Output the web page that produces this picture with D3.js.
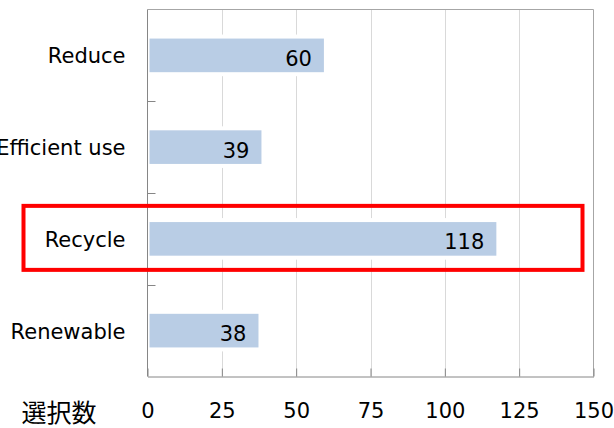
<!DOCTYPE html>
<html>
<head>
<meta charset="utf-8">
<script src="https://cdn.jsdelivr.net/npm/d3@7/dist/d3.min.js"></script>
<style>
  html, body { margin: 0; padding: 0; background: #fff; }
  svg { display: block; }
</style>
</head>
<body>
<svg id="chart" width="614" height="428"></svg>
<script>
// Number of selections per resource-strategy category
const categories = ["Reduce", "Efficient use", "Recycle", "Renewable"];
const counts = [60, 39, 118, 38];
const xTicks = [0, 25, 50, 75, 100, 125, 150];
const xAxisTitle = "選択数";
const highlighted = "Recycle";

const svg = d3.select("#chart");
const plotLeft = 147.5, plotRight = 593.5, plotTop = 9.5, plotBottom = 376.5;
const latin = "'DejaVu Sans', Verdana, sans-serif";

const x = d3.scaleLinear().domain([0, 150]).range([plotLeft, plotRight]);
const y = d3.scaleBand().domain(categories).range([plotTop, plotBottom])
  .paddingInner(0.59).paddingOuter(0.295);
const step = y.step();

// vertical gridlines
svg.append("g").selectAll("line").data(xTicks.slice(1, -1)).join("line")
  .attr("x1", d => Math.round(x(d)) + 0.5).attr("x2", d => Math.round(x(d)) + 0.5)
  .attr("y1", plotTop).attr("y2", plotBottom)
  .attr("stroke", "#d9d9d9").attr("stroke-width", 1);

// bars (white outline separates them from the gridlines)
svg.append("g").selectAll("rect").data(categories).join("rect")
  .attr("x", x(0))
  .attr("y", d => y(d))
  .attr("width", (d, i) => x(counts[i]) - x(0))
  .attr("height", y.bandwidth())
  .attr("fill", "#b9cde5")
  .attr("stroke", "#fff").attr("stroke-width", 4);

// value labels inside bar ends
svg.append("g").selectAll("text").data(categories).join("text")
  .attr("x", (d, i) => x(counts[i]) - 14)
  .attr("y", d => y(d) + y.bandwidth() / 2 + 10.5)
  .attr("text-anchor", "end")
  .attr("font-family", latin).attr("font-size", 21).attr("fill", "#000")
  .text((d, i) => counts[i]);

// plot frame: top and right edges
svg.append("path")
  .attr("d", `M${plotLeft},${plotTop}H${plotRight}V${plotBottom}`)
  .attr("fill", "none").attr("stroke", "#a6a6a6").attr("stroke-width", 1);

// bottom axis with inward ticks
const xAxis = svg.append("g")
  .attr("transform", `translate(0,${plotBottom})`)
  .call(d3.axisBottom(x).tickValues(xTicks).tickSize(-8).tickSizeOuter(0));
xAxis.select(".domain").attr("stroke", "#868686");
xAxis.selectAll(".tick line").attr("stroke", "#868686");
xAxis.selectAll(".tick text")
  .attr("y", 41).attr("dy", 0)
  .attr("font-family", latin).attr("font-size", 21).attr("fill", "#000");

// left axis line with inward ticks at category boundaries
svg.append("line")
  .attr("x1", plotLeft).attr("x2", plotLeft).attr("y1", plotTop).attr("y2", plotBottom)
  .attr("stroke", "#868686");
svg.append("g").selectAll("line").data(d3.range(1, categories.length)).join("line")
  .attr("x1", plotLeft).attr("x2", plotLeft + 8)
  .attr("y1", i => Math.round(plotTop + i * step) + 0.5)
  .attr("y2", i => Math.round(plotTop + i * step) + 0.5)
  .attr("stroke", "#868686");

// category labels
svg.append("g").selectAll("text").data(categories).join("text")
  .attr("x", 125.5)
  .attr("y", d => y(d) + y.bandwidth() / 2 + 8)
  .attr("text-anchor", "end")
  .attr("font-family", latin).attr("font-size", 21).attr("fill", "#000")
  .text(d => d);

// axis title
svg.append("text")
  .attr("x", 59).attr("y", 422)
  .attr("text-anchor", "middle")
  .attr("font-family", "'Noto Sans CJK JP', sans-serif").attr("font-size", 25)
  .attr("fill", "#000")
  .text(xAxisTitle);

// highlight frame around the emphasised category
const hc = y(highlighted) + y.bandwidth() / 2;
svg.append("rect")
  .attr("x", 23.5).attr("y", hc - 33)
  .attr("width", 559).attr("height", 64)
  .attr("fill", "none").attr("stroke", "#ff0000").attr("stroke-width", 4);
</script>
</body>
</html>
